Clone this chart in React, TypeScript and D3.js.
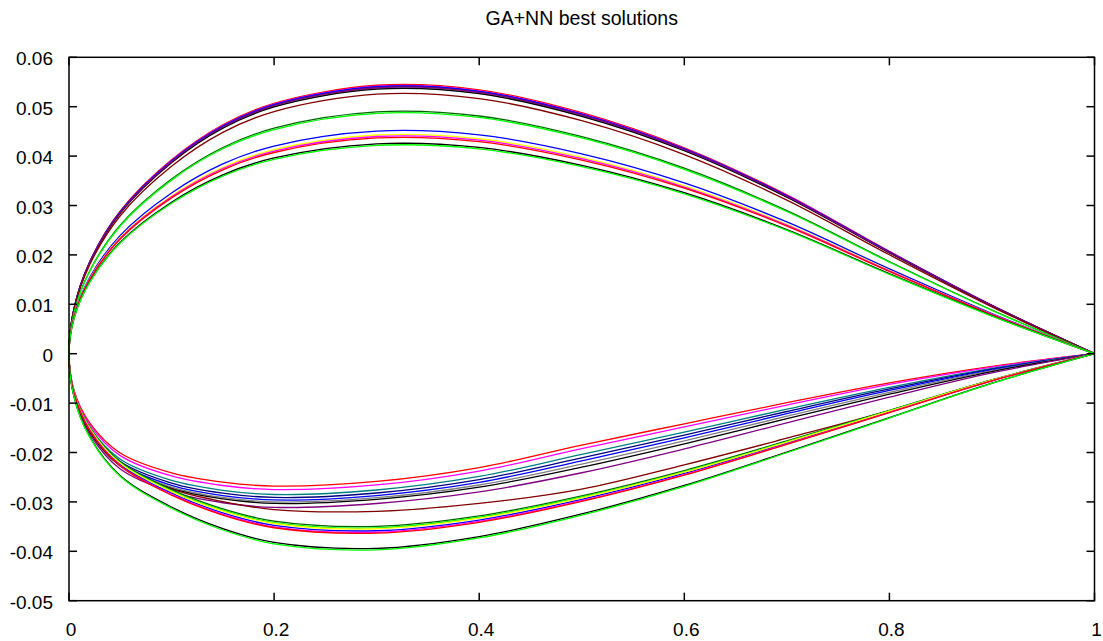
import React from 'react';
import * as d3 from 'd3';

const title = 'GA+NN best solutions';
const xTicks = [0, 0.2, 0.4, 0.6, 0.8, 1];
const xTickLabels = ['0', '0.2', '0.4', '0.6', '0.8', '1'];
const yTicks = [-0.05, -0.04, -0.03, -0.02, -0.01, 0, 0.01, 0.02, 0.03, 0.04, 0.05, 0.06];
const yTickLabels = ['-0.05', '-0.04', '-0.03', '-0.02', '-0.01', '0', '0.01', '0.02', '0.03', '0.04', '0.05', '0.06'];

// chordwise stations
const stations = [0, 0.005, 0.02, 0.05, 0.1, 0.15, 0.2, 0.3, 0.4, 0.5, 0.6, 0.7, 0.8, 0.9, 1];

const colors = [
  '#ff0000', '#ff00ff', '#008080', '#000080', '#0000ff', '#808080', '#000000', '#800080',
  '#800000', '#006400', '#00ff00', '#0000ff', '#ffff00', '#ff00ff', '#ff0000', '#000000', '#00ff00',
];

// upper surface y at each station
const upper = [
  [0, 0.00927, 0.01853, 0.02889, 0.03924, 0.04633, 0.05069, 0.05434, 0.05341, 0.04878, 0.04169, 0.03216, 0.02071, 0.00981, 0],
  [0, 0.00923, 0.01846, 0.02878, 0.0391, 0.04616, 0.0505, 0.05414, 0.05321, 0.0486, 0.04154, 0.03204, 0.02063, 0.00977, 0],
  [0, 0.00918, 0.01836, 0.02862, 0.03888, 0.0459, 0.05022, 0.05384, 0.05292, 0.04833, 0.04131, 0.03186, 0.02052, 0.00972, 0],
  [0, 0.0092, 0.01839, 0.02867, 0.03895, 0.04599, 0.05031, 0.05394, 0.05302, 0.04842, 0.04139, 0.03192, 0.02056, 0.00974, 0],
  [0, 0.00921, 0.01843, 0.02873, 0.03902, 0.04607, 0.05041, 0.05404, 0.05312, 0.04851, 0.04146, 0.03198, 0.0206, 0.00976, 0],
  [0, 0.00915, 0.01829, 0.02851, 0.03874, 0.04573, 0.05003, 0.05364, 0.05272, 0.04815, 0.04116, 0.03174, 0.02044, 0.00968, 0],
  [0, 0.00913, 0.01826, 0.02846, 0.03866, 0.04565, 0.04994, 0.05354, 0.05263, 0.04806, 0.04108, 0.03168, 0.02041, 0.00967, 0],
  [0, 0.00918, 0.01836, 0.02862, 0.03888, 0.0459, 0.05022, 0.05384, 0.05292, 0.04833, 0.04131, 0.03186, 0.02052, 0.00972, 0],
  [0, 0.00896, 0.01792, 0.02793, 0.03794, 0.0448, 0.04901, 0.05254, 0.05165, 0.04717, 0.04032, 0.03109, 0.02003, 0.00949, 0],
  [0, 0.00835, 0.01669, 0.02602, 0.03535, 0.04174, 0.04566, 0.04895, 0.04812, 0.04394, 0.03756, 0.02897, 0.01866, 0.00884, 0],
  [0, 0.0083, 0.01659, 0.02586, 0.03514, 0.04148, 0.04538, 0.04865, 0.04782, 0.04368, 0.03733, 0.02879, 0.01854, 0.00878, 0],
  [0, 0.00768, 0.01537, 0.02396, 0.03254, 0.03842, 0.04204, 0.04506, 0.0443, 0.04045, 0.03458, 0.02667, 0.01718, 0.00814, 0],
  [0, 0.00755, 0.0151, 0.02353, 0.03197, 0.03774, 0.04129, 0.04427, 0.04351, 0.03974, 0.03397, 0.0262, 0.01687, 0.00799, 0],
  [0, 0.0075, 0.01499, 0.02337, 0.03175, 0.03749, 0.04101, 0.04397, 0.04322, 0.03947, 0.03374, 0.02602, 0.01676, 0.00794, 0],
  [0, 0.00745, 0.01489, 0.02321, 0.03154, 0.03723, 0.04073, 0.04367, 0.04292, 0.0392, 0.03351, 0.02584, 0.01664, 0.00788, 0],
  [0, 0.00724, 0.01448, 0.02258, 0.03067, 0.03621, 0.03962, 0.04247, 0.04175, 0.03813, 0.03259, 0.02513, 0.01619, 0.00767, 0],
  [0, 0.00719, 0.01438, 0.02242, 0.03046, 0.03596, 0.03934, 0.04217, 0.04145, 0.03786, 0.03236, 0.02496, 0.01607, 0.00761, 0],
];

// lower surface y at each station
const lower = [
  [0, -0.0075, -0.01394, -0.0201, -0.02412, -0.026, -0.0268, -0.02586, -0.02305, -0.01849, -0.0142, -0.00992, -0.0059, -0.00255, 0],
  [0, -0.0077, -0.0143, -0.02063, -0.02475, -0.02668, -0.0275, -0.02657, -0.02376, -0.01921, -0.01482, -0.0104, -0.00622, -0.0027, 0],
  [0, -0.00798, -0.01482, -0.02138, -0.02565, -0.02765, -0.0285, -0.02759, -0.02485, -0.02039, -0.01587, -0.01123, -0.00681, -0.00296, 0],
  [0, -0.00815, -0.01513, -0.02183, -0.02619, -0.02823, -0.0291, -0.0282, -0.02549, -0.02107, -0.01647, -0.0117, -0.00714, -0.00311, 0],
  [0, -0.00829, -0.01539, -0.0222, -0.02664, -0.02871, -0.0296, -0.02871, -0.02605, -0.02168, -0.01702, -0.01214, -0.00744, -0.00326, 0],
  [0, -0.0084, -0.0156, -0.0225, -0.027, -0.0291, -0.03, -0.02915, -0.02658, -0.02236, -0.01766, -0.01266, -0.00783, -0.00344, 0],
  [0, -0.00848, -0.01576, -0.02273, -0.02727, -0.02939, -0.0303, -0.02948, -0.02703, -0.02297, -0.01824, -0.01315, -0.00819, -0.00361, 0],
  [0, -0.00871, -0.01617, -0.02333, -0.02799, -0.03017, -0.0311, -0.03032, -0.02799, -0.0241, -0.01928, -0.014, -0.0088, -0.00389, 0],
  [0, -0.00805, -0.01513, -0.02222, -0.02737, -0.02995, -0.03156, -0.0319, -0.0303, -0.0274, -0.0225, -0.0171, -0.0115, -0.0053, 0],
  [0, -0.00777, -0.01483, -0.02189, -0.02753, -0.03142, -0.03389, -0.03495, -0.03283, -0.02877, -0.02365, -0.01765, -0.01147, -0.0053, 0],
  [0, -0.00783, -0.01495, -0.02207, -0.02777, -0.03168, -0.03418, -0.03524, -0.03311, -0.02901, -0.02385, -0.0178, -0.01157, -0.00534, 0],
  [0, -0.00796, -0.0152, -0.02244, -0.02824, -0.03222, -0.03475, -0.03584, -0.03367, -0.0295, -0.02425, -0.0181, -0.01177, -0.00543, 0],
  [0, -0.00788, -0.01504, -0.0222, -0.02792, -0.03186, -0.03437, -0.03544, -0.03329, -0.02918, -0.02399, -0.0179, -0.01164, -0.00537, 0],
  [0, -0.00803, -0.01533, -0.02263, -0.02847, -0.03249, -0.03504, -0.03614, -0.03395, -0.02975, -0.02446, -0.01825, -0.01186, -0.00548, 0],
  [0, -0.00807, -0.01541, -0.02275, -0.02863, -0.03266, -0.03523, -0.03633, -0.03413, -0.02991, -0.02459, -0.01835, -0.01193, -0.00551, 0],
  [0, -0.00876, -0.01672, -0.02468, -0.03104, -0.03542, -0.03821, -0.0394, -0.03701, -0.03244, -0.02667, -0.0199, -0.01294, -0.00597, 0],
  [0, -0.00882, -0.01684, -0.02486, -0.03128, -0.03569, -0.0385, -0.0397, -0.03729, -0.03268, -0.02687, -0.02005, -0.01303, -0.00602, 0],
];

const W = 1103;
const H = 641;
const FONT = '"Liberation Sans", Arial, sans-serif';

export default function App() {
  const x = d3.scaleLinear().domain([0, 1]).range([69, 1094.5]);
  const y = d3.scaleLinear().domain([-0.05, 0.06]).range([600.7, 57.3]);
  const line = d3
    .line<[number, number]>()
    .x((d) => x(d[0]))
    .y((d) => y(d[1]))
    .curve(d3.curveCatmullRom.alpha(0.5));

  const paths = colors.map((c, i) => {
    const pts: [number, number][] = [];
    for (let k = stations.length - 1; k >= 0; k--) pts.push([stations[k], lower[i][k]]);
    for (let k = 1; k < stations.length; k++) pts.push([stations[k], upper[i][k]]);
    return { d: line(pts) || '', c };
  });

  const x0 = x(0), x1 = x(1), y0 = y(-0.05), y1 = y(0.06);
  const tl = 8;

  return (
    <svg width={W} height={H} style={{ position: 'absolute', left: 0, top: 0, background: '#fff' }}>
      <rect x={0} y={0} width={W} height={H} fill="#fff" />
      <text x={x(0.5)} y={25} textAnchor="middle" fontFamily={FONT} fontSize={19.5} fill="#000">
        {title}
      </text>
      {paths.map((p, i) => (
        <path key={i} d={p.d} fill="none" stroke={p.c} strokeWidth={1.3} />
      ))}
      <g stroke="#000" strokeWidth={1.5}>
        {yTicks.map((t, i) => (
          <g key={i}>
            <line x1={x0} x2={x0 + tl} y1={y(t)} y2={y(t)} />
            <line x1={x1} x2={x1 - tl} y1={y(t)} y2={y(t)} />
          </g>
        ))}
        {xTicks.map((t, i) => (
          <g key={i}>
            <line x1={x(t)} x2={x(t)} y1={y0} y2={y0 - tl} />
            <line x1={x(t)} x2={x(t)} y1={y1} y2={y1 + tl} />
          </g>
        ))}
        <rect x={x0} y={y1} width={x1 - x0} height={y0 - y1} fill="none" />
      </g>
      <g fontFamily={FONT} fontSize={19} fill="#000">
        {yTicks.map((t, i) => (
          <text key={i} x={53} y={y(t) + 8} textAnchor="end">
            {yTickLabels[i]}
          </text>
        ))}
        {xTicks.map((t, i) => (
          <text key={i} x={x(t) + 2} y={636} textAnchor="middle">
            {xTickLabels[i]}
          </text>
        ))}
      </g>
    </svg>
  );
}
